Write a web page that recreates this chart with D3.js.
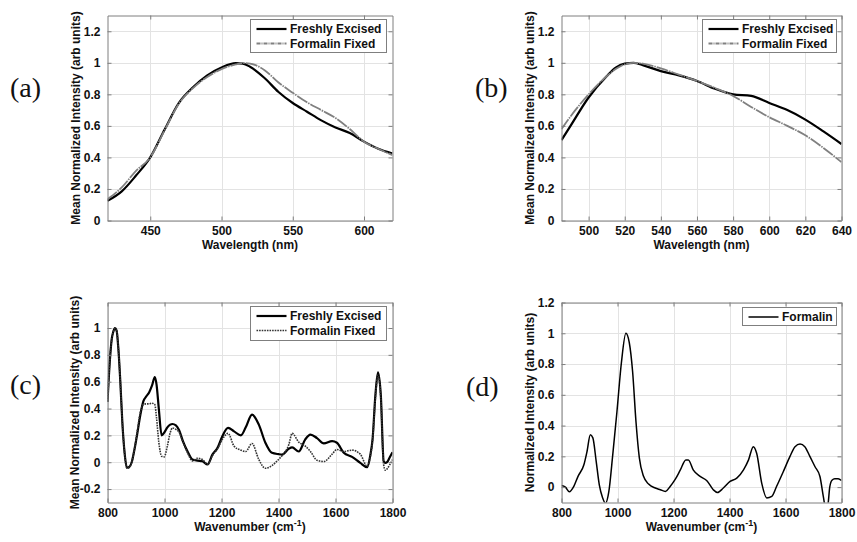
<!DOCTYPE html>
<html>
<head>
<meta charset="utf-8">
<script src="https://cdn.jsdelivr.net/npm/d3@7"></script>
<style>
  body { margin: 0; background: #fff; }
  text { font-family: "Liberation Sans", Arial, sans-serif; }
</style>
</head>
<body>
<div id="chart"></div>
<script>
// ---- (a) fluorescence, excitation 1
var waveA  = [420, 430, 440, 450, 460, 470, 480, 490, 500, 510, 515, 520, 530, 540, 550, 560, 570, 580, 590, 600, 610, 620];
var freshA = [0.125, 0.185, 0.285, 0.40, 0.575, 0.745, 0.845, 0.92, 0.97, 0.998, 0.995, 0.975, 0.905, 0.815, 0.745, 0.69, 0.635, 0.59, 0.555, 0.5, 0.455, 0.425];
var formA  = [0.135, 0.21, 0.315, 0.40, 0.57, 0.74, 0.84, 0.91, 0.96, 0.99, 0.998, 0.995, 0.955, 0.875, 0.81, 0.75, 0.7, 0.65, 0.58, 0.5, 0.455, 0.415];

// ---- (b) fluorescence, excitation 2
var waveB  = [485, 490, 500, 510, 515, 520, 525, 530, 540, 550, 560, 570, 580, 590, 600, 610, 620, 630, 640];
var freshB = [0.51, 0.6, 0.78, 0.915, 0.97, 0.995, 1.0, 0.985, 0.947, 0.92, 0.885, 0.835, 0.8, 0.79, 0.745, 0.7, 0.64, 0.565, 0.485];
var formB  = [0.58, 0.66, 0.8, 0.915, 0.96, 0.99, 1.0, 0.995, 0.965, 0.925, 0.885, 0.84, 0.79, 0.72, 0.655, 0.6, 0.54, 0.46, 0.37];

// ---- (c) Raman, tissue
var waveC = [800, 808, 815, 820, 826, 832, 838, 845, 852, 860,
             868, 876, 885, 895, 905, 915, 926, 936, 946, 956,
             966, 972, 980, 990, 999, 1010, 1020, 1028, 1040, 1051,
             1065, 1081, 1098, 1116, 1133, 1151, 1168, 1186, 1203, 1223,
             1244, 1268, 1285, 1307, 1331, 1354, 1377, 1400, 1413, 1436,
             1448, 1471, 1494, 1512, 1535, 1559, 1588, 1605, 1629, 1658,
             1687, 1711, 1722, 1730, 1740, 1749, 1759, 1769, 1775, 1781,
             1790, 1800];
var freshC = [0.45, 0.75, 0.92, 0.97, 1.0, 0.98, 0.85, 0.6, 0.3, 0.07,
              -0.04, -0.035, 0.0, 0.1, 0.22, 0.35, 0.455, 0.49, 0.52, 0.57,
              0.635, 0.58, 0.4, 0.2, 0.22, 0.26, 0.28, 0.285, 0.275, 0.24,
              0.155, 0.08, 0.02, 0.012, 0.007, -0.017, 0.057, 0.107, 0.194, 0.256,
              0.23, 0.2, 0.26, 0.355, 0.28, 0.145, 0.07, 0.06, 0.057, 0.1,
              0.11, 0.08, 0.17, 0.206, 0.18, 0.14, 0.157, 0.145, 0.07, 0.04,
              -0.005, -0.037, 0.05, 0.17, 0.5, 0.67, 0.5, 0.007, -0.005, 0.0,
              0.035, 0.075];
var formC  = [0.45, 0.75, 0.92, 0.97, 0.995, 0.98, 0.85, 0.6, 0.3, 0.07,
              -0.045, -0.04, 0.0, 0.1, 0.24, 0.37, 0.43, 0.435, 0.435, 0.44,
              0.43, 0.33, 0.15, 0.045, 0.04, 0.12, 0.22, 0.255, 0.245, 0.225,
              0.15, 0.07, 0.01, 0.03, 0.02, -0.015, 0.05, 0.1, 0.17, 0.215,
              0.12, 0.09, 0.08, 0.14, 0.02, -0.045, -0.025, 0.02, 0.05, 0.13,
              0.215, 0.15, 0.12, 0.08, 0.015, 0.005, 0.06, 0.095, 0.08, 0.09,
              0.06, -0.03, 0.04, 0.16, 0.48, 0.65, 0.48, -0.02, -0.06, -0.05,
              -0.02, 0.02];

// ---- (d) Raman, formalin
var waveD = [800, 814, 828, 844, 859, 880, 891, 903, 912, 924,
             935, 947, 957, 969, 983, 998, 1014, 1030, 1042, 1054,
             1066, 1078, 1093, 1111, 1135, 1153, 1171, 1188, 1206, 1224,
             1244, 1253, 1271, 1295, 1320, 1342, 1357, 1378, 1402, 1426,
             1450, 1468, 1485, 1497, 1515, 1533, 1551, 1568, 1592, 1616,
             1634, 1652, 1669, 1687, 1705, 1723, 1735, 1745, 1752, 1758,
             1766, 1776, 1788, 1800];
var formD = [0.01, 0.0, -0.03, 0.005, 0.07, 0.145, 0.23, 0.34, 0.32, 0.166,
             0.015, -0.07, -0.105, -0.03, 0.21, 0.49, 0.81, 1.0, 0.94, 0.75,
             0.425, 0.19, 0.07, 0.02, -0.006, -0.017, -0.028, 0.004, 0.05, 0.11,
             0.177, 0.177, 0.11, 0.07, 0.04, -0.017, -0.035, -0.006, 0.037, 0.058,
             0.112, 0.177, 0.263, 0.22, 0.026, -0.07, -0.06, 0.004, 0.1, 0.2,
             0.263, 0.28, 0.263, 0.2, 0.134, 0.069, -0.06, -0.15, -0.11, 0.0,
             0.045, 0.054, 0.054, 0.043];

// tick values
var yTicksAB = [0, 0.2, 0.4, 0.6, 0.8, 1, 1.2];
var yTicksC = [-0.2, 0, 0.2, 0.4, 0.6, 0.8, 1];
var yTicksD = [0, 0.2, 0.4, 0.6, 0.8, 1, 1.2];
var xTicksA = [450, 500, 550, 600];
var xTicksB = [500, 520, 540, 560, 580, 600, 620, 640];
var xTicksCD = [800, 1000, 1200, 1400, 1600, 1800];

var gridColor = "#e3e3e3";
var boxColor = "#7f7f7f";

// line styles (dash = in plot, legendDash = short legend sample)
var styleFresh = { stroke: "#000", width: 2.2, dash: null, legendDash: null };
var styleFormAB = { stroke: "#808080", width: 1.8, dash: "12,1,1.5,1", legendDash: "4,1,1,1" };
var styleFormC = { stroke: "#333", width: 1.6, dash: "1.6,1", legendDash: "1.6,1" };
var styleFormD = { stroke: "#000", width: 1.5, dash: null, legendDash: null };

var svg = d3.select("#chart").append("svg")
  .attr("width", 857)
  .attr("height", 542);

svg.append("rect").attr("width", 857).attr("height", 542).attr("fill", "#fff");

var clipId = 0;

function drawPanel(p) {
  var x = d3.scaleLinear().domain(p.xDomain).range([p.left, p.right]);
  var y = d3.scaleLinear().domain(p.yDomain).range([p.bottom, p.top]);
  var g = svg.append("g");

  // grid
  g.append("g").selectAll("line").data(p.xTicks).enter().append("line")
    .attr("x1", d => Math.round(x(d)) + 0.5).attr("x2", d => Math.round(x(d)) + 0.5)
    .attr("y1", p.top).attr("y2", p.bottom)
    .attr("stroke", gridColor);
  g.append("g").selectAll("line").data(p.yTicks).enter().append("line")
    .attr("x1", p.left).attr("x2", p.right)
    .attr("y1", d => Math.round(y(d)) + 0.5).attr("y2", d => Math.round(y(d)) + 0.5)
    .attr("stroke", gridColor);

  // curves
  clipId += 1;
  svg.append("clipPath").attr("id", "clip" + clipId)
    .append("rect")
    .attr("x", p.left).attr("y", p.top)
    .attr("width", p.right - p.left).attr("height", p.bottom - p.top);

  var line = d3.line()
    .x(d => x(d[0]))
    .y(d => y(d[1]))
    .curve(d3.curveMonotoneX);

  var curves = g.append("g").attr("clip-path", "url(#clip" + clipId + ")");
  p.series.forEach(function(s) {
    curves.append("path")
      .datum(d3.zip(s.x, s.y))
      .attr("fill", "none")
      .attr("stroke", s.style.stroke)
      .attr("stroke-width", s.style.width)
      .attr("stroke-dasharray", s.style.dash)
      .attr("stroke-linejoin", "round")
      .attr("d", line);
  });

  // axes, MATLAB style box with inward ticks
  var fmt = d => String(d);
  var axB = g.append("g").attr("transform", `translate(0, ${p.bottom})`)
    .call(d3.axisBottom(x).tickValues(p.xTicks).tickSizeInner(-4).tickSizeOuter(0).tickPadding(6).tickFormat(fmt));
  var axT = g.append("g").attr("transform", `translate(0, ${p.top})`)
    .call(d3.axisTop(x).tickValues(p.xTicks).tickSizeInner(-4).tickSizeOuter(0).tickFormat(""));
  var axL = g.append("g").attr("transform", `translate(${p.left}, 0)`)
    .call(d3.axisLeft(y).tickValues(p.yTicks).tickSizeInner(-4).tickSizeOuter(0).tickPadding(7).tickFormat(fmt));
  var axR = g.append("g").attr("transform", `translate(${p.right}, 0)`)
    .call(d3.axisRight(y).tickValues(p.yTicks).tickSizeInner(-4).tickSizeOuter(0).tickFormat(""));

  [axB, axT, axL, axR].forEach(function(a) {
    a.attr("color", boxColor);
    a.selectAll("text")
      .attr("fill", "#111")
      .style("font-family", '"Liberation Sans", Arial, sans-serif')
      .style("font-size", "12px")
      .style("font-weight", "bold");
  });

  // axis titles
  var xt = g.append("text")
    .attr("x", (p.left + p.right) / 2)
    .attr("y", p.bottom + 28.5)
    .attr("text-anchor", "middle")
    .attr("font-size", "12px")
    .attr("font-weight", "bold")
    .attr("fill", "#111");
  if (p.xSup) {
    xt.append("tspan").text(p.xLabel);
    xt.append("tspan").attr("dy", -5).attr("font-size", "9px").text(p.xSup);
    xt.append("tspan").attr("dy", 5).text(")");
  } else {
    xt.text(p.xLabel);
  }

  g.append("text")
    .attr("transform", `translate(${p.yLabelX}, ${(p.top + p.bottom) / 2}) rotate(-90)`)
    .attr("text-anchor", "middle")
    .attr("dominant-baseline", "central")
    .attr("font-size", "12px")
    .attr("font-weight", "bold")
    .attr("fill", "#111")
    .text(p.yLabel);

  // panel tag
  svg.append("text")
    .attr("x", p.tagX)
    .attr("y", p.tagY)
    .style("font-family", '"Liberation Serif", "Times New Roman", serif')
    .attr("font-size", "28px")
    .attr("fill", "#111")
    .text(p.tag);

  // legend
  var lg = g.append("g");
  var L = p.legend;
  lg.append("rect")
    .attr("x", L.x).attr("y", L.y)
    .attr("width", L.w).attr("height", L.h)
    .attr("fill", "#fff")
    .attr("stroke", boxColor);
  p.series.forEach(function(s, i) {
    var ly = L.y + 9.5 + i * 14.5;
    lg.append("line")
      .attr("x1", L.x + 6).attr("x2", L.x + 36)
      .attr("y1", ly).attr("y2", ly)
      .attr("stroke", s.style.stroke)
      .attr("stroke-width", s.style.width)
      .attr("stroke-dasharray", s.style.legendDash);
    lg.append("text")
      .attr("x", L.x + 39.5)
      .attr("y", ly)
      .attr("dominant-baseline", "central")
      .attr("font-size", "12px")
      .attr("font-weight", "bold")
      .attr("fill", "#111")
      .text(s.name);
  });
}

drawPanel({
  left: 107.5, right: 392.5, top: 15.5, bottom: 220.5,
  xDomain: [420, 620], yDomain: [0, 1.3],
  xTicks: xTicksA, yTicks: yTicksAB,
  xLabel: "Wavelength (nm)",
  yLabel: "Mean Normalized Intensity (arb units)", yLabelX: 76,
  tag: "(a)", tagX: 10, tagY: 97,
  legend: { x: 250.5, y: 19.5, w: 136, h: 33 },
  series: [
    { name: "Freshly Excised", x: waveA, y: freshA, style: styleFresh },
    { name: "Formalin Fixed", x: waveA, y: formA, style: styleFormAB }
  ]
});

drawPanel({
  left: 561.5, right: 841.5, top: 15.5, bottom: 220.5,
  xDomain: [485, 640], yDomain: [0, 1.3],
  xTicks: xTicksB, yTicks: yTicksAB,
  xLabel: "Wavelength (nm)",
  yLabel: "Mean Normalized Intensity (arb units)", yLabelX: 530,
  tag: "(b)", tagX: 475, tagY: 97,
  legend: { x: 702.5, y: 19.5, w: 134, h: 33 },
  series: [
    { name: "Freshly Excised", x: waveB, y: freshB, style: styleFresh },
    { name: "Formalin Fixed", x: waveB, y: formB, style: styleFormAB }
  ]
});

drawPanel({
  left: 107.5, right: 392.5, top: 302.5, bottom: 502.5,
  xDomain: [800, 1800], yDomain: [-0.3, 1.19],
  xTicks: xTicksCD, yTicks: yTicksC,
  xLabel: "Wavenumber (cm", xSup: "-1",
  yLabel: "Mean Normalized Intensity (arb units)", yLabelX: 75,
  tag: "(c)", tagX: 10, tagY: 394,
  legend: { x: 250.5, y: 306.5, w: 136, h: 34 },
  series: [
    { name: "Freshly Excised", x: waveC, y: freshC, style: styleFresh },
    { name: "Formalin Fixed", x: waveC, y: formC, style: styleFormC }
  ]
});

drawPanel({
  left: 561.5, right: 841.5, top: 302.5, bottom: 502.5,
  xDomain: [800, 1800], yDomain: [-0.1, 1.2],
  xTicks: xTicksCD, yTicks: yTicksD,
  xLabel: "Wavenumber (cm", xSup: "-1",
  yLabel: "Normalized Intensity (arb units)", yLabelX: 530,
  tag: "(d)", tagX: 466, tagY: 396,
  legend: { x: 742.5, y: 307.5, w: 94, h: 18 },
  series: [
    { name: "Formalin", x: waveD, y: formD, style: styleFormD }
  ]
});
</script>
</body>
</html>
